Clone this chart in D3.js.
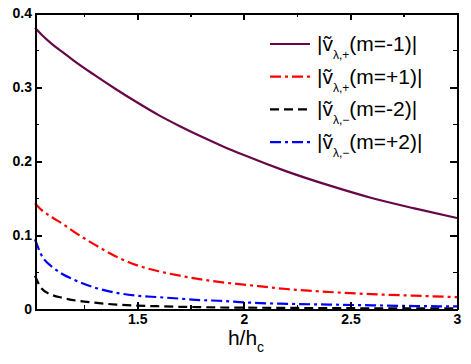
<!DOCTYPE html>
<html lang="en">
<head>
<meta charset="utf-8">
<title>|v| vs h/hc</title>
<style>
  body { margin: 0; background: #fff; }
  .axis path, .axis line { stroke: #000; stroke-width: 2; shape-rendering: crispEdges; }
  .axis text { font-family: "Liberation Sans", Arial, sans-serif; font-size: 14px; font-weight: bold; fill: #000; }
  .minor line { stroke-width: 1.5; }
  .minor path { display: none; }
  .legend text { font-family: "Liberation Sans", Arial, sans-serif; font-size: 21px; fill: #000; }
  .title { font-family: "Liberation Sans", Arial, sans-serif; font-size: 21px; text-anchor: middle; }
</style>
</head>
<body>
<div id="chart"></div>
<script src="https://cdn.jsdelivr.net/npm/d3@7/dist/d3.min.js"></script>
<script>

// h/hc sample points
var hValues = [1.02, 1.05, 1.1, 1.15, 1.2, 1.3, 1.4, 1.5, 1.6, 1.7, 1.8, 1.9, 2.0, 2.2, 2.4, 2.6, 2.8, 3.0];

// |v| for each mode
var vPlusM1  = [0.380, 0.371, 0.358, 0.347, 0.336, 0.316, 0.297, 0.279, 0.262, 0.247, 0.233, 0.220, 0.208, 0.186, 0.167, 0.150, 0.136, 0.123];
var vPlusP1  = [0.143, 0.134, 0.124, 0.115, 0.105, 0.087, 0.071, 0.059, 0.051, 0.045, 0.040, 0.036, 0.033, 0.027, 0.023, 0.020, 0.018, 0.016];
var vMinusM2 = [0.045, 0.028, 0.019, 0.015, 0.012, 0.0085, 0.006, 0.0045, 0.0037, 0.003, 0.0025, 0.002, 0.0018, 0.0015, 0.0012, 0.001, 0.0009, 0.0008];
var vMinusP2 = [0.094, 0.073, 0.057, 0.047, 0.040, 0.029, 0.022, 0.018, 0.016, 0.014, 0.012, 0.011, 0.009, 0.007, 0.006, 0.005, 0.004, 0.0035];

var xTicks = [1.5, 2, 2.5, 3];
var xMinor = [1.25, 1.75, 2.25, 2.75];
var yTicks = [0, 0.1, 0.2, 0.3, 0.4];
var yMinor = [0.05, 0.15, 0.25, 0.35];

var series = [
  {sub: "\u03bb,+", mode: "(m=-1)|", values: vPlusM1,  color: "#670748", dash: null},
  {sub: "\u03bb,+", mode: "(m=+1)|", values: vPlusP1,  color: "#ff0000", dash: "11,4,3,4"},
  {sub: "\u03bb,\u2212", mode: "(m=-2)|", values: vMinusM2, color: "#000000", dash: "9,5"},
  {sub: "\u03bb,\u2212", mode: "(m=+2)|", values: vMinusP2, color: "#0000ff", dash: "11,4,3,4"}
];

var margin = {top: 13, right: 14, bottom: 55, left: 35},
    width = 471 - margin.left - margin.right,
    height = 364 - margin.top - margin.bottom;

var svg = d3.select("#chart").append("svg")
    .attr("width", 471)
    .attr("height", 364);

var plt = svg.append("g").attr("transform", "translate(" + margin.left + "," + margin.top + ")");

var xScale = d3.scaleLinear().domain([1.02, 3]).range([0, width]);
var yScale = d3.scaleLinear().domain([0, 0.4]).range([height, 0]);

// curves
var line = d3.line()
    .x(function(d) { return xScale(d[0]); })
    .y(function(d) { return yScale(d[1]); })
    .curve(d3.curveMonotoneX);

series.forEach(function(s) {
  plt.append("path")
     .datum(hValues.map(function(h, i) { return [h, s.values[i]]; }))
     .attr("d", line)
     .style("fill", "none")
     .style("stroke", s.color)
     .style("stroke-width", 2.2)
     .style("stroke-dasharray", s.dash);
});

// minor ticks (inward)
plt.append("g").attr("class", "axis minor").attr("transform", "translate(0," + height + ")")
   .call(d3.axisBottom(xScale).tickValues(xMinor).tickSize(-4).tickFormat(""));
plt.append("g").attr("class", "axis minor")
   .call(d3.axisTop(xScale).tickValues(xMinor).tickSize(-4).tickFormat(""));
plt.append("g").attr("class", "axis minor")
   .call(d3.axisLeft(yScale).tickValues(yMinor).tickSize(-4).tickFormat(""));
plt.append("g").attr("class", "axis minor").attr("transform", "translate(" + width + ",0)")
   .call(d3.axisRight(yScale).tickValues(yMinor).tickSize(-4).tickFormat(""));

// major axes, ticks pointing in
plt.append("g").attr("class", "x axis").attr("transform", "translate(0," + height + ")")
   .call(d3.axisBottom(xScale).tickValues(xTicks).tickSizeInner(-7).tickSizeOuter(0).tickPadding(5).tickFormat(d3.format("")));
plt.append("g").attr("class", "axis")
   .call(d3.axisTop(xScale).tickValues(xTicks).tickSizeInner(-7).tickSizeOuter(0).tickFormat(""));
plt.append("g").attr("class", "y axis")
   .call(d3.axisLeft(yScale).tickValues(yTicks).tickSizeInner(-7).tickSizeOuter(0).tickPadding(3).tickFormat(d3.format("")));
plt.append("g").attr("class", "axis").attr("transform", "translate(" + width + ",0)")
   .call(d3.axisRight(yScale).tickValues(yTicks).tickSizeInner(-7).tickSizeOuter(0).tickFormat(""));

// x axis title h/h_c
var xt = svg.append("text").attr("class", "title")
    .attr("x", margin.left + width / 2)
    .attr("y", 345);
xt.append("tspan").text("h/h");
xt.append("tspan").attr("dy", 7).style("font-size", "14px").text("c");

// legend
var legend = svg.append("g").attr("class", "legend");
series.forEach(function(s, i) {
  var y = 44 + i * 32.7;
  legend.append("line")
        .attr("x1", 270).attr("x2", 310)
        .attr("y1", y).attr("y2", y)
        .style("stroke", s.color)
        .style("stroke-width", 2.2)
        .style("stroke-dasharray", s.dash);
  var t = legend.append("text").attr("x", 317).attr("y", y + 7);
  t.append("tspan").text("|\u1e7d");
  t.append("tspan").attr("dy", 8).style("font-size", "12px").text(s.sub);
  t.append("tspan").attr("dy", -8).text(s.mode);
});

</script>
</body>
</html>
